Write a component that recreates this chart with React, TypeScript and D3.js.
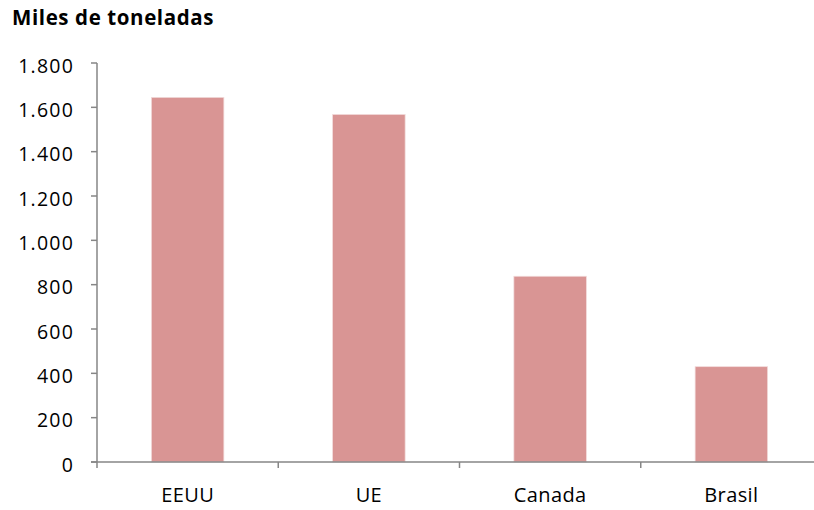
import React from "react";
import * as d3 from "d3";

const categories = ["EEUU", "UE", "Canada", "Brasil"];
const values = [1645, 1568, 838, 430];
const yTicks = [0, 200, 400, 600, 800, 1000, 1200, 1400, 1600, 1800];
const title = "Miles de toneladas";

const fmt = (v: number) => {
  const s = String(v);
  return s.length > 3 ? s.slice(0, s.length - 3) + "." + s.slice(-3) : s;
};

export default function App() {
  const W = 814, H = 510;
  const left = 97, right = 822, top = 63, bottom = 462;
  const x = d3.scaleBand().domain(categories).range([left, right]).paddingInner(0).paddingOuter(0);
  const y = d3.scaleLinear().domain([0, 1800]).range([bottom, top]);
  const bw = x.bandwidth() * 0.4;
  const font = "'Open Sans', sans-serif";
  const xTickPos = [...categories.map((c) => x(c)!), right];
  return (
    <svg width={W} height={H} style={{ position: "absolute", left: 0, top: 0 }}>
      <rect x={0} y={0} width={W} height={H} fill="#fff" />
      <text x={12} y={25} fontFamily={font} fontWeight="bold" fontSize={20.5} letterSpacing={0.6} fill="#000">{title}</text>
      {categories.map((c, i) => (
        <rect key={c} x={x(c)! + x.bandwidth() / 2 - bw / 2} y={y(values[i])} width={bw} height={bottom - y(values[i])}
          fill="#D99594" stroke="#F2DCDB" strokeWidth={0.75} />
      ))}
      <line x1={left} x2={left} y1={top} y2={bottom} stroke="#868686" strokeWidth={1.5} />
      {yTicks.map((t) => (
        <g key={t}>
          <line x1={left - 6} x2={left} y1={y(t)} y2={y(t)} stroke="#868686" strokeWidth={1.5} />
          <text x={74} y={y(t)} dy="0.49em" textAnchor="end" fontFamily={font} fontSize={19.5} letterSpacing={1.2} fill="#000">{fmt(t)}</text>
        </g>
      ))}
      <line x1={left - 6} x2={right} y1={bottom} y2={bottom} stroke="#868686" strokeWidth={1.5} />
      {xTickPos.map((p, i) => (
        <line key={i} x1={p} x2={p} y1={bottom} y2={bottom + 6} stroke="#868686" strokeWidth={1.5} />
      ))}
      {categories.map((c) => (
        <text key={c} x={x(c)! + x.bandwidth() / 2} y={502} textAnchor="middle" fontFamily={font} fontSize={20} letterSpacing={0.4} fill="#000">{c}</text>
      ))}
    </svg>
  );
}
